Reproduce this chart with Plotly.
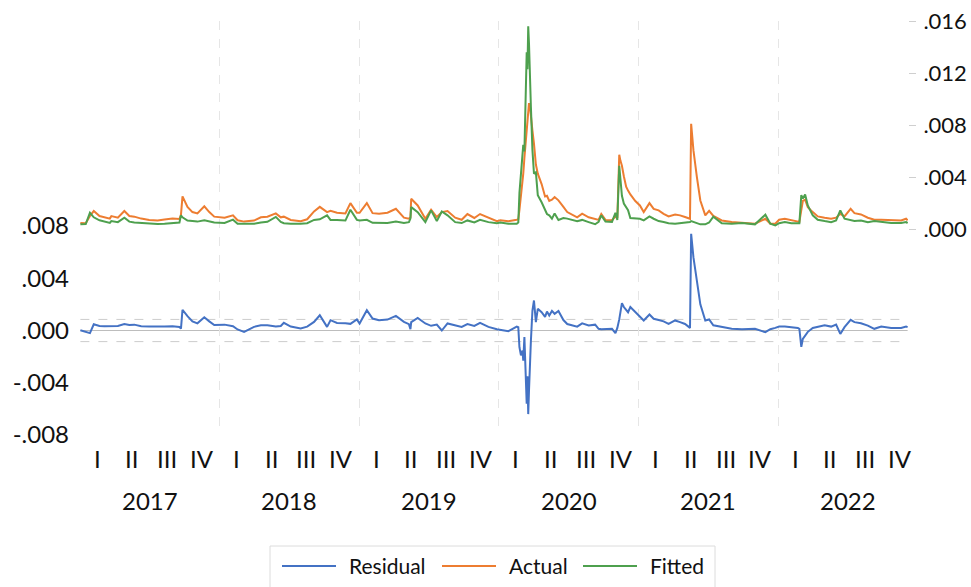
import plotly.graph_objects as go

# ---- data (volatility model: actual, fitted, residual), values in units of 1e-3 ----
dates = [
    # 2017
    "2017-01-02", "2017-01-16", "2017-01-27", "2017-02-06", "2017-02-21", "2017-03-06",
    "2017-03-20", "2017-03-24", "2017-04-10", "2017-04-27", "2017-05-10", "2017-05-23",
    "2017-06-10", "2017-07-01", "2017-07-23", "2017-08-10", "2017-08-31", "2017-09-18",
    "2017-09-22", "2017-09-26", "2017-10-09", "2017-10-22", "2017-11-04", "2017-11-22",
    "2017-12-05", "2017-12-18",
    # 2018
    "2018-01-14", "2018-02-05", "2018-02-17", "2018-03-06", "2018-04-01", "2018-04-19",
    "2018-05-06", "2018-05-28", "2018-06-10", "2018-06-18", "2018-07-06", "2018-08-01",
    "2018-08-18", "2018-09-05", "2018-09-20", "2018-10-09", "2018-10-18", "2018-11-04",
    "2018-11-26", "2018-12-09", "2018-12-26",
    # 2019
    "2019-01-02", "2019-01-21", "2019-02-05", "2019-02-22", "2019-03-16", "2019-04-07",
    "2019-04-28", "2019-05-11", "2019-05-15", "2019-05-17", "2019-06-03", "2019-06-23",
    "2019-07-08", "2019-07-23", "2019-08-05", "2019-08-20", "2019-09-09", "2019-09-26",
    "2019-10-11", "2019-10-29", "2019-11-13", "2019-12-05", "2019-12-27",
    # 2020
    "2020-01-05", "2020-01-26", "2020-02-17", "2020-02-21", "2020-02-24", "2020-02-28",
    "2020-03-03", "2020-03-05", "2020-03-08", "2020-03-12", "2020-03-14", "2020-03-16",
    "2020-03-18", "2020-03-20", "2020-03-23", "2020-03-25", "2020-03-29", "2020-04-02",
    "2020-04-07", "2020-04-12", "2020-04-22", "2020-05-01", "2020-05-06", "2020-05-12",
    "2020-05-19", "2020-05-26", "2020-06-05", "2020-06-18", "2020-06-28", "2020-07-24",
    "2020-08-06", "2020-08-23", "2020-09-09", "2020-09-18", "2020-09-25", "2020-10-06",
    "2020-10-23", "2020-11-01", "2020-11-06", "2020-11-11", "2020-11-14", "2020-11-18",
    "2020-11-23", "2020-11-29", "2020-12-04", "2020-12-10", "2020-12-23",
    # 2021
    "2021-01-04", "2021-01-14", "2021-01-29", "2021-02-09", "2021-02-22", "2021-03-07",
    "2021-03-20", "2021-04-06", "2021-04-19", "2021-05-02", "2021-05-15", "2021-05-18",
    "2021-05-24", "2021-06-02", "2021-06-11", "2021-06-24", "2021-07-04", "2021-07-15",
    "2021-08-06", "2021-09-01", "2021-09-28", "2021-11-01", "2021-11-28", "2021-12-11",
    "2021-12-24",
    # 2022
    "2022-01-03", "2022-01-18", "2022-02-04", "2022-02-21", "2022-02-25", "2022-03-02",
    "2022-03-06", "2022-03-12", "2022-03-19", "2022-04-01", "2022-04-14", "2022-05-02",
    "2022-05-19", "2022-06-01", "2022-06-12", "2022-06-23", "2022-07-09", "2022-07-19",
    "2022-08-05", "2022-08-23", "2022-09-09", "2022-09-27", "2022-10-23", "2022-11-18",
    "2022-12-01", "2022-12-05",
]

actual_milli = [
    # 2017
    0.51, 0.50, 1.05, 1.43, 1.05, 0.95, 0.85, 1.04, 0.92, 1.43, 1.05, 1.00,
    0.85, 0.75, 0.70, 0.78, 0.85, 0.82, 1.15, 2.55, 1.75, 1.35, 1.25, 1.79,
    1.35, 1.00,
    # 2018
    0.92, 1.10, 0.72, 0.62, 0.70, 0.95, 1.00, 1.25, 0.95, 1.00, 0.75, 0.65,
    0.80, 1.40, 1.75, 1.35, 1.45, 1.30, 1.25, 2.04, 1.30,
    # 2019
    1.30, 2.04, 1.27, 1.22, 1.30, 1.60, 0.92, 0.84, 0.95, 2.37, 1.86, 0.84,
    1.53, 0.97, 1.35, 1.43, 0.92, 0.76, 1.20, 0.90, 1.20, 0.90, 0.65,
    # 2020
    0.72, 0.65, 0.77, 0.80, 1.50, 2.50, 3.60, 4.30, 5.50, 7.10, 8.00, 8.80,
    9.30, 9.70, 9.30, 8.60, 7.60, 6.60, 5.00, 4.30, 3.50, 2.55, 2.60, 2.20,
    2.30, 2.50, 2.25, 1.75, 1.35, 0.95, 1.23, 0.95, 0.82, 0.75, 1.20, 0.75,
    0.72, 1.00, 0.90, 5.75, 5.30, 4.90, 4.10, 3.30, 3.00, 2.70, 2.20,
    # 2021
    1.86, 1.35, 2.04, 1.60, 1.48, 1.22, 1.02, 1.17, 1.10, 0.97, 0.84, 8.12,
    6.08, 4.03, 2.24, 1.10, 1.45, 1.05, 0.71, 0.59, 0.51, 0.46, 0.84, 0.46,
    0.46,
    # 2022
    0.76, 0.84, 0.71, 0.58, 0.60, 1.50, 2.20, 2.30, 1.73, 1.35, 1.02, 0.92,
    0.84, 0.92, 1.22, 1.02, 1.60, 1.27, 1.17, 0.92, 0.76, 0.76, 0.76, 0.71,
    0.84, 0.71,
]

fitted_milli = [
    # 2017
    0.41, 0.43, 1.30, 0.95, 0.72, 0.62, 0.52, 0.66, 0.58, 0.92, 0.62, 0.55,
    0.52, 0.45, 0.43, 0.46, 0.52, 0.55, 1.10, 0.95, 0.70, 0.65, 0.62, 0.72,
    0.65, 0.55,
    # 2018
    0.51, 0.77, 0.46, 0.46, 0.45, 0.55, 0.60, 0.98, 0.60, 0.50, 0.45, 0.45,
    0.50, 0.75, 0.80, 1.10, 0.75, 0.75, 0.70, 1.53, 0.75,
    # 2019
    0.71, 0.76, 0.53, 0.51, 0.51, 0.63, 0.51, 0.58, 0.85, 1.73, 1.35, 0.58,
    1.48, 0.66, 1.40, 1.10, 0.58, 0.51, 0.71, 0.55, 0.76, 0.58, 0.50,
    # 2020
    0.55, 0.45, 0.46, 0.55, 2.80, 4.30, 5.10, 6.50, 6.00, 10.70, 13.60, 12.30,
    15.60, 14.30, 10.30, 9.40, 6.10, 4.30, 4.40, 2.65, 2.10, 1.50, 1.20, 1.10,
    0.85, 1.25, 0.75, 0.90, 0.85, 0.65, 0.75, 0.58, 0.42, 0.60, 1.10, 0.62,
    0.60, 1.30, 0.75, 4.90, 3.60, 2.60, 2.00, 1.70, 1.50, 0.90, 0.85,
    # 2021
    0.84, 0.71, 1.02, 0.84, 0.66, 0.59, 0.50, 0.46, 0.50, 0.50, 0.59, 0.66,
    0.59, 0.46, 0.41, 0.41, 0.55, 1.00, 0.50, 0.46, 0.51, 0.41, 1.15, 0.46,
    0.33,
    # 2022
    0.50, 0.58, 0.50, 0.46, 0.50, 2.65, 2.40, 2.70, 1.86, 1.10, 0.76, 0.66,
    0.58, 0.71, 1.48, 0.84, 0.71, 0.66, 0.71, 0.58, 0.66, 0.58, 0.51, 0.51,
    0.58, 0.51,
]

residual_milli = [
    # 2017
    0.02, -0.08, -0.20, 0.48, 0.35, 0.33, 0.33, 0.38, 0.35, 0.50, 0.42, 0.45,
    0.33, 0.30, 0.27, 0.30, 0.33, 0.27, 0.15, 1.59, 1.10, 0.70, 0.55, 1.02,
    0.70, 0.42,
    # 2018
    0.45, 0.33, 0.08, -0.10, 0.28, 0.40, 0.41, 0.30, 0.35, 0.59, 0.30, 0.15,
    0.30, 0.66, 1.17, 0.28, 0.79, 0.58, 0.56, 0.51, 0.85,
    # 2019
    0.54, 1.56, 0.92, 0.79, 0.84, 1.12, 0.66, 0.49, 0.10, 0.64, 0.97, 0.54,
    0.36, 0.45, 0.00, 0.54, 0.42, 0.28, 0.49, 0.35, 0.59, 0.28, 0.10,
    # 2020
    0.05, -0.05, 0.30, 0.25, -1.28, -1.90, -1.53, -2.30, -0.50, -3.60, -5.60, -3.50,
    -6.40, -4.60, -1.00, -0.77, 1.53, 2.30, 0.64, 1.66, 1.40, 1.05, 1.45, 1.15,
    1.50, 1.28, 1.50, 0.80, 0.50, 0.30, 0.55, 0.38, 0.45, 0.13, 0.10, 0.13,
    0.13, -0.20, 0.20, 0.85, 1.53, 2.10, 1.80, 1.53, 1.40, 1.80, 1.40,
    # 2021
    1.02, 0.77, 1.23, 0.90, 0.80, 0.70, 0.51, 0.77, 0.64, 0.50, 0.20, 7.40,
    5.60, 3.60, 2.00, 0.77, 0.85, 0.40, 0.30, 0.13, 0.10, 0.13, -0.13, 0.10,
    0.20,
    # 2022
    0.30, 0.30, 0.25, 0.20, 0.13, -1.25, -0.64, -0.38, -0.10, 0.20, 0.30, 0.40,
    0.30, 0.45, -0.26, 0.26, 0.82, 0.64, 0.56, 0.38, 0.13, 0.30, 0.20, 0.20,
    0.30, 0.26,
]

resid_sd_milli = 0.85  # one standard error band around zero

years = [2017, 2018, 2019, 2020, 2021, 2022]
quarter_labels = ["I", "II", "III", "IV"]
quarter_mid = ["-02-15", "-05-16", "-08-16", "-11-15"]

left_ticks_milli = [-8, -4, 0, 4, 8]
left_ticktext = ["-.008", "-.004", ".000", ".004", ".008"]
right_ticks_milli = [0, 4, 8, 12, 16]
right_ticktext = [".000", ".004", ".008", ".012", ".016"]

SCALE = 1e-3
actual = [v * SCALE for v in actual_milli]
fitted = [v * SCALE for v in fitted_milli]
residual = [v * SCALE for v in residual_milli]

BLUE = "#4472C4"
ORANGE = "#ED7D31"
GREEN = "#4EA04E"
FONT = "Lato"
TXT = "#111111"

W, H = 971, 587
ML, MR, MT, MB = 80, 63, 21, 152
PW, PH = W - ML - MR, H - MT - MB


def px_x(x):
    return (x - ML) / PW


def px_y(y):
    return (H - MB - y) / PH


fig = go.Figure()
fig.add_trace(go.Scatter(x=dates, y=residual, name="Residual", mode="lines",
                         line=dict(color=BLUE, width=2), yaxis="y"))
fig.add_trace(go.Scatter(x=dates, y=actual, name="Actual", mode="lines",
                         line=dict(color=ORANGE, width=2), yaxis="y2"))
fig.add_trace(go.Scatter(x=dates, y=fitted, name="Fitted", mode="lines",
                         line=dict(color=GREEN, width=2), yaxis="y2"))

shapes = []
# residual zero line and standard-error band
shapes.append(dict(type="line", xref="x", yref="y", x0=dates[0], x1=dates[-1], y0=0, y1=0,
                   line=dict(color="#bdbdbd", width=1.2), layer="below"))
for s in (resid_sd_milli, -resid_sd_milli):
    shapes.append(dict(type="line", xref="x", yref="y", x0=dates[0], x1=dates[-1],
                       y0=s * SCALE, y1=s * SCALE,
                       line=dict(color="#cccccc", width=1, dash="dash"), layer="below"))

annotations = []
for yr in years:
    for q, md in zip(quarter_labels, quarter_mid):
        annotations.append(dict(x=f"{yr}{md}", y=px_y(458), xref="x", yref="paper",
                                text=q, showarrow=False, xanchor="center", yanchor="middle",
                                font=dict(family=FONT, size=24, color=TXT)))
    annotations.append(dict(x=f"{yr}-07-02", y=px_y(500), xref="x", yref="paper",
                            text=str(yr), showarrow=False, xanchor="center", yanchor="middle",
                            font=dict(family=FONT, size=24, color=TXT)))

# legend box
shapes.append(dict(type="rect", xref="paper", yref="paper",
                   x0=px_x(270), x1=px_x(715), y0=px_y(546), y1=px_y(595),
                   line=dict(color="#dcdcdc", width=1), fillcolor="white", layer="above"))
legend_items = [("Residual", BLUE, 282, 347), ("Actual", ORANGE, 442, 507), ("Fitted", GREEN, 583, 648)]
for name, col, lx, tx in legend_items:
    shapes.append(dict(type="line", xref="paper", yref="paper",
                       x0=px_x(lx), x1=px_x(lx + 54), y0=px_y(566), y1=px_y(566),
                       line=dict(color=col, width=2), layer="above"))
    annotations.append(dict(x=px_x(tx), y=px_y(565), xref="paper", yref="paper", text=name,
                            showarrow=False, xanchor="left", yanchor="middle",
                            font=dict(family=FONT, size=21, color=TXT)))

fig.update_layout(
    width=W, height=H,
    margin=dict(l=ML, r=MR, t=MT, b=MB, pad=0, autoexpand=False),
    paper_bgcolor="white", plot_bgcolor="white",
    showlegend=False,
    xaxis=dict(range=["2017-01-01", "2022-12-06"], type="date",
               tickvals=[f"{y}-01-01" for y in years[1:]],
               showticklabels=False, ticks="", automargin=False,
               showgrid=True, gridcolor="#e6e6e6", griddash="dash", gridwidth=1,
               zeroline=False, showline=False),
    yaxis=dict(range=[-0.008, 0.0237], automargin=False,
               tickvals=[v * SCALE for v in left_ticks_milli], ticktext=left_ticktext,
               showgrid=False, zeroline=False, showline=False, ticks="",
               ticklabelstandoff=10,
               tickfont=dict(family=FONT, size=24, color=TXT)),
    yaxis2=dict(range=[-0.01574, 0.016], overlaying="y", side="right", automargin=False,
                tickvals=[v * SCALE for v in right_ticks_milli], ticktext=right_ticktext,
                showgrid=False, zeroline=False, showline=False,
                ticks="outside", ticklen=7, tickcolor="#cfcfcf", tickwidth=1,
                ticklabelstandoff=3,
                tickfont=dict(family=FONT, size=22, color=TXT)),
    shapes=shapes,
    annotations=annotations,
)

fig.write_html("out.html")
